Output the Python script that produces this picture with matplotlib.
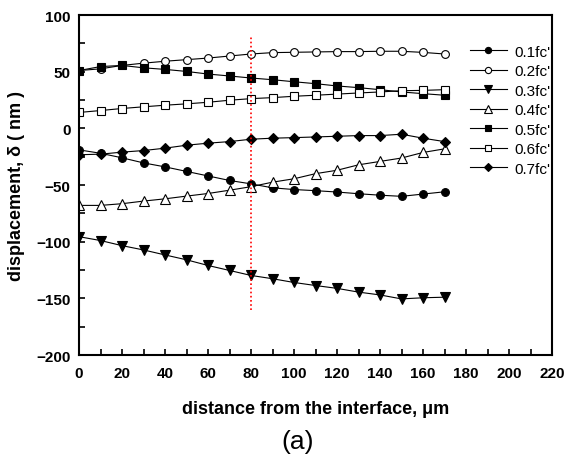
import numpy as np
import matplotlib
matplotlib.use('Agg')
import matplotlib.pyplot as plt
from matplotlib.ticker import MultipleLocator

plt.rcParams['font.family'] = ['Liberation Sans', 'DejaVu Sans']

# distance from the interface (um)
dist = [0, 10, 20, 30, 40, 50, 60, 70, 80, 90, 100, 110, 120, 130, 140, 150, 160, 170]

fc01 = [-19, -22, -26, -30.5, -34, -38, -42, -46, -49, -52.5, -54, -55, -56.2, -57.7, -59, -60, -58, -56]
fc02 = [51, 52.5, 55.5, 57.5, 59.2, 60.6, 62, 63.8, 65.6, 66.8, 67.1, 67.4, 67.7, 67.7, 68, 68, 67, 65.6]
fc03 = [-95.6, -99, -103.5, -107.3, -111.7, -116, -121, -125.4, -129.8, -132.7, -136, -138.7, -141.2, -144.5, -147, -150.5, -149.5, -149]
fc04 = [-68, -68, -66.5, -64.2, -62.2, -59.8, -57.5, -54.6, -51.5, -47.5, -44.5, -40, -37, -32.2, -29.2, -26.2, -21.3, -18.1]
fc05 = [51, 54.5, 55.5, 53.4, 52, 50.2, 47.9, 46.2, 44.4, 42.9, 41.1, 39.4, 37.4, 35.9, 34.1, 32.1, 30.6, 29.2]
fc06 = [14, 15.7, 17.5, 19, 20.4, 21.6, 23, 24.8, 26.2, 27.1, 28.3, 29.2, 30.2, 31.2, 32.1, 33.2, 33.5, 34.1]
fc07 = [-23.3, -22.8, -21, -19.6, -17.5, -14.9, -13.1, -11.7, -9.6, -8.7, -8.2, -7.6, -7, -6.4, -6.4, -5.2, -8.7, -11.7]

labels = ["0.1fc'", "0.2fc'", "0.3fc'", "0.4fc'", "0.5fc'", "0.6fc'", "0.7fc'"]
series = [fc01, fc02, fc03, fc04, fc05, fc06, fc07]
markers = ['o', 'o', 'v', '^', 's', 's', 'D']
filled = [True, False, True, False, True, False, True]
msizes = [5.6, 5.6, 6.5, 6.5, 5.3, 5.3, 5.6]

fig = plt.figure(figsize=(5.65, 4.6), dpi=100)
ax = fig.add_axes([79 / 565, 1 - 356 / 460, (552 - 79) / 565, (356 - 16) / 460])

for y, lab, m, f, ms in zip(series, labels, markers, filled, msizes):
    ax.plot(dist, y, color='black', lw=0.8, marker=m, ms=ms,
            mfc='black' if f else 'white', mec='black', mew=0.8, label=lab)

# section line at 80 um
ax.plot([80, 80], [-160, 82], color='red', ls=(0, (1, 1.5)), lw=1.2)

ax.set_xlim(0, 220)
ax.set_ylim(-200, 100)
ax.xaxis.set_major_locator(MultipleLocator(20))
ax.xaxis.set_minor_locator(MultipleLocator(10))
ax.yaxis.set_major_locator(MultipleLocator(50))
ax.yaxis.set_minor_locator(MultipleLocator(25))
ax.tick_params(which='both', direction='in', top=False, right=False, width=1.2, length=4.3)
ax.tick_params(axis='x', which='major', labelsize=11, pad=8)
ax.tick_params(axis='y', which='major', labelsize=11, pad=6)
for t in ax.get_xticklabels() + ax.get_yticklabels():
    t.set_fontweight('bold')
for s in ax.spines.values():
    s.set_linewidth(1.5)

ax.set_xlabel('distance from the interface, \u03bcm', fontsize=13, fontweight='bold', labelpad=14)
ax.set_ylabel('displacement, \u03b4 ( nm )', fontsize=13, fontweight='bold', labelpad=8)

ax.legend(loc='upper right', frameon=False, fontsize=11, handlelength=2.4,
          labelspacing=0.36, borderaxespad=0.0, borderpad=0.1,
          bbox_to_anchor=(1.0, 0.917), handletextpad=0.5, markerscale=0.8)

fig.text(298 / 565, 1 - 442 / 460, '(a)', ha='center', va='center', fontsize=19,
         stretch='condensed')

fig.savefig('out.png', dpi=100)
